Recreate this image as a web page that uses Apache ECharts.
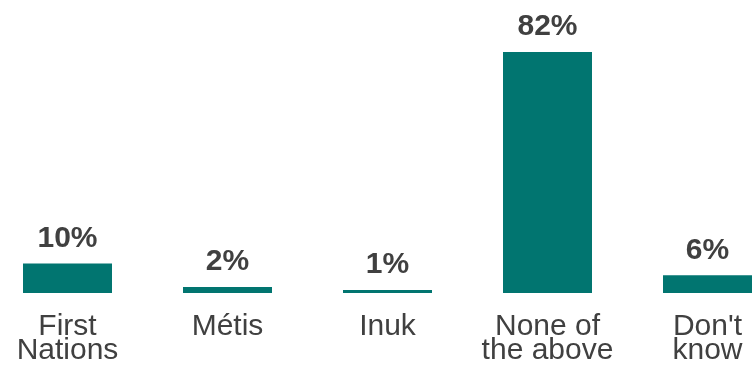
<!DOCTYPE html>
<html><head><meta charset="utf-8">
<script src="https://cdn.jsdelivr.net/npm/echarts@6/dist/echarts.min.js"></script>
<style>html,body{margin:0;padding:0;background:#fff}#c{width:753px;height:370px}</style>
</head><body><div id="c"></div>
<script>
const categories = ["First\nNations", "Métis", "Inuk", "None of\nthe above", "Don't\nknow"];
const values = [10, 2, 1, 82, 6];
const chart = echarts.init(document.getElementById('c'), null, {renderer: 'canvas'});
chart.setOption({
  animation: false,
  grid: {left: -12.5, width: 800, top: 52, height: 241, containLabel: false, outerBoundsMode: 'none'},
  xAxis: {
    type: 'category', data: categories,
    axisLine: {show: false}, axisTick: {show: false},
    axisLabel: {interval: 0, fontFamily: 'Liberation Sans', fontSize: 30, lineHeight: 24, color: '#404040', margin: 22}
  },
  yAxis: {type: 'value', min: 0, max: 82, show: false, splitLine: {show: false}},
  series: [{
    type: 'bar', data: values, barWidth: 89,
    itemStyle: {color: '#017570'},
    label: {show: true, position: 'top', distance: 10, formatter: '{c}%', fontFamily: 'Liberation Sans', fontSize: 30, fontWeight: 'bold', color: '#404040'}
  }]
});
</script></body></html>
